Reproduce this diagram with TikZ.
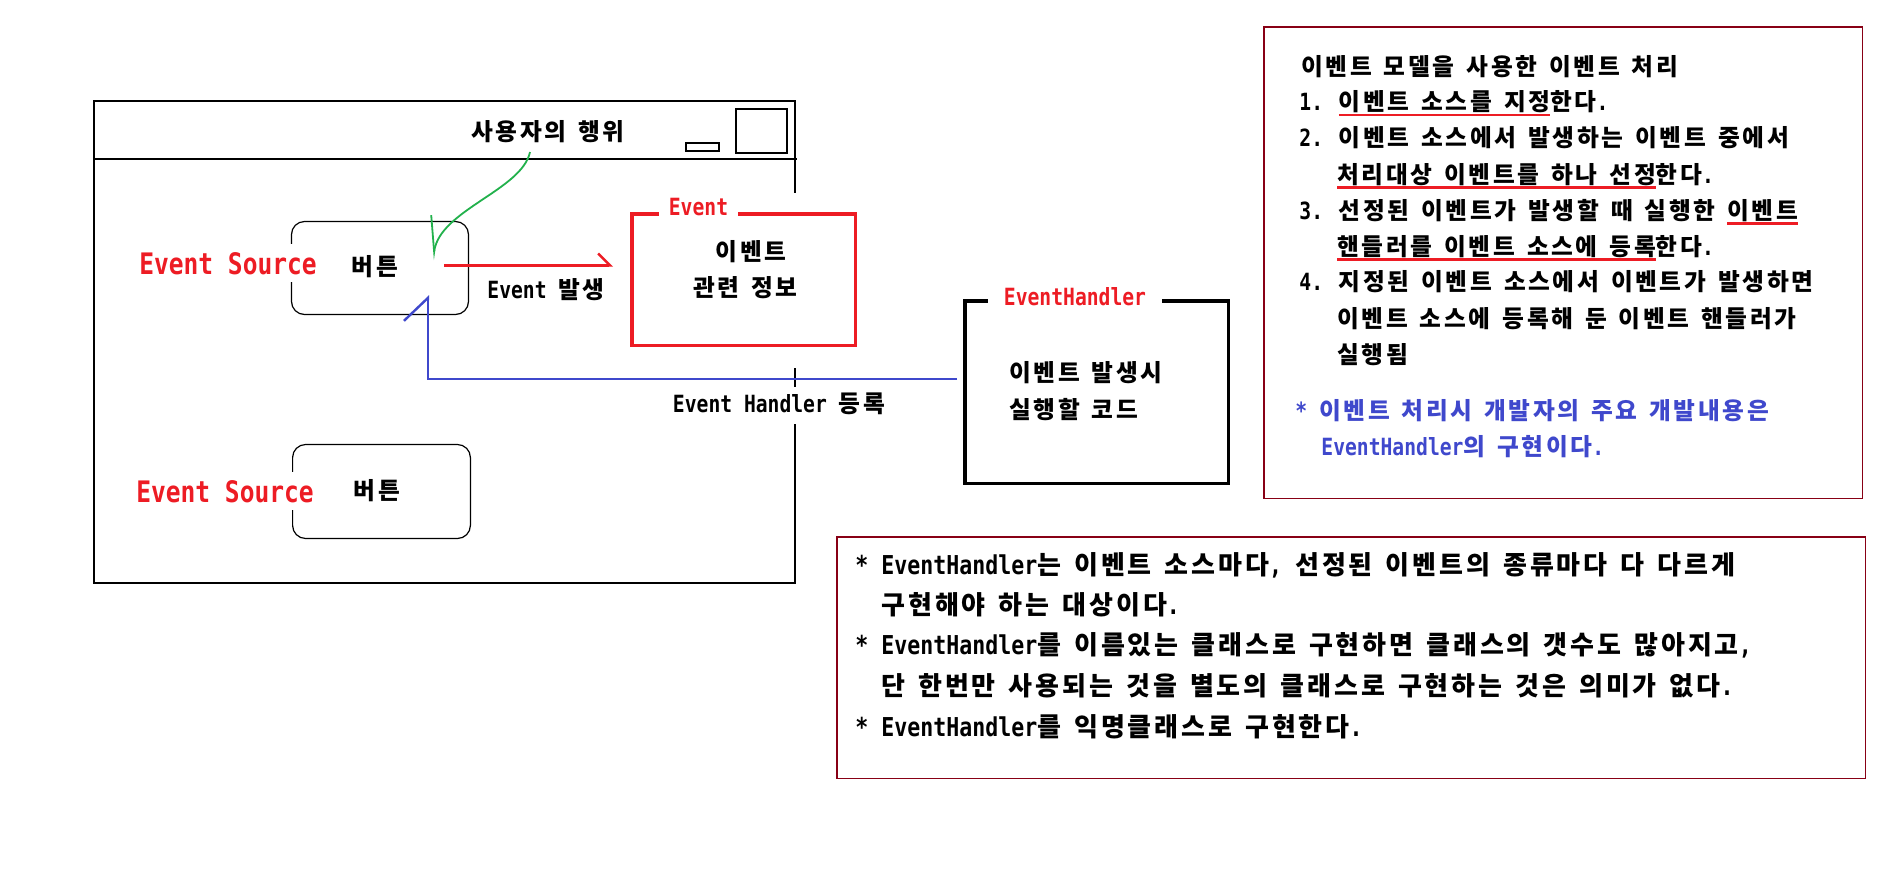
\documentclass[tikz,border=0pt]{standalone}
\usepackage{fontspec}
\setmainfont{Noto Sans CJK KR}[LetterSpace=11.2]
\newfontfamily\latf{DejaVu Sans Mono}[FakeStretch=0.83]
\usetikzlibrary{arrows.meta}
\definecolor{pred}{RGB}{237,28,36}
\definecolor{pgreen}{RGB}{34,177,76}
\definecolor{pblue}{RGB}{63,72,204}
\definecolor{pdark}{RGB}{136,0,21}
\newsavebox\ulbox
\newcommand\rul[1]{\sbox\ulbox{#1}\rlap{\color{pred}\rule[-2.8pt]{\wd\ulbox}{1.1pt}}\usebox\ulbox}
\newcommand\lt[1]{{\latf #1}}
\newcommand\ks{\hskip 0.5em\relax}
\tikzset{
  txt/.style={anchor=west, inner sep=0pt, text height=0.8em, text depth=0.05em,
    font={\fontsize{11.85pt}{14pt}\selectfont\bfseries}},
  btxt/.style={txt, font={\fontsize{13pt}{15pt}\selectfont\bfseries}},
  lbl/.style={anchor=base, fill=white, inner xsep=5pt, inner ysep=1pt, text=pred,
    font={\latf\bfseries\fontsize{11.85pt}{14pt}\selectfont}},
  srclbl/.style={anchor=base, fill=white, inner xsep=2pt, inner ysep=4pt, text=pred,
    font={\latf\bfseries\fontsize{14.8pt}{17pt}\selectfont}},
  thinline/.style={draw=black, line width=0.6pt},
  frameline/.style={draw=black, line width=0.8pt},
  btn/.style={draw=black, line width=0.6pt, rounded corners=6.5pt, inner sep=0pt},
  redbox/.style={draw=pred, line width=1.75pt, inner sep=0pt},
  blackbox/.style={draw=black, line width=1.75pt, inner sep=0pt},
  notebox/.style={draw=pdark, line width=0.75pt, inner sep=0pt},
}
\begin{document}
\begin{tikzpicture}[x=0.5pt,y=-0.5pt]
\fill[white] (0,0) rectangle (1898,868);
\useasboundingbox (0,0) rectangle (1898,868);

% window
\draw[frameline] (94,101) rectangle (795,583);
\draw[frameline] (94,159) -- (797,159);
\draw[thinline] (686,143) rectangle (719,151);
\draw[thinline] (736,109) rectangle (787,153);
\fill[white] (620,193) rectangle (870,368);

\node[txt] (user) at (471,133) {사용자의\ks 행위};

% buttons
\node[btn, minimum width=88.5pt, minimum height=46.5pt] (b1) at (380,268) {};
\node[txt, anchor=center] (b1t) at (375,268) {버튼};
\node[srclbl] (s1) at (228,274) {Event Source};
\node[btn, minimum width=88.9pt, minimum height=47pt] (b2) at (381.5,491.5) {};
\node[txt, anchor=center] (b2t) at (377,492) {버튼};
\node[srclbl] (s2) at (225,502) {Event Source};

% event box
\node[redbox, minimum width=111.75pt, minimum height=65.75pt] (ev) at (743.5,279.5) {};
\node[lbl] (evl) at (698.5,215) {Event};
\node[txt, anchor=center] (ev1) at (751,253) {이벤트};
\node[txt, anchor=center] (ev2) at (745.5,289) {관련\ks 정보};

% event handler box
\node[blackbox, minimum width=131.75pt, minimum height=91.25pt] (eh) at (1096.5,392) {};
\node[lbl, inner xsep=8pt] (ehl) at (1075,305) {EventHandler};
\node[txt] (eh1) at (1009,373.5) {이벤트\ks 발생시};
\node[txt] (eh2) at (1009,410.5) {실행할\ks 코드};

% labels on connectors
\node[txt] (occ) at (487,291) {\lt{Event }발생};
\node[txt, anchor=center, fill=white, inner ysep=5pt, inner xsep=2pt] (reg) at (779,405) {\lt{Event Handler }등록};

% connectors
\coordinate (gs) at (530,152);
\coordinate (gt) at (433,260);
\draw[pgreen, line width=0.9pt, -{Straight Barb[harpoon,swap,length=18pt,width=8pt]}]
  (gs) .. controls (522,190) and (440,210) .. (gt);

\coordinate (rs) at (444,265.5);
\draw[pred, line width=1.2pt, shorten >=8.5pt, -{Straight Barb[harpoon,length=6pt,width=12pt]}]
  (rs) -- (rs -| ev.west);

\coordinate (bt) at (428,295);
\draw[pblue, line width=1.2pt, shorten <=3pt, -{Straight Barb[harpoon,length=11.5pt,width=24pt]}]
  ([yshift=6.5pt]eh.west) -| (bt);

% right note box
\node[notebox, minimum width=299.25pt, minimum height=235.75pt] (info) at (1563,262.5) {};
\node[txt] (r0) at (1301,68) {이벤트\ks 모델을\ks 사용한\ks 이벤트\ks 처리};
\node[txt] (r1) at (1299,103) {\lt{1. }\rul{이벤트\ks 소스를\ks 지정}한다\lt{.}};
\node[txt] (r2) at (1299,139) {\lt{2. }이벤트\ks 소스에서\ks 발생하는\ks 이벤트\ks 중에서};
\node[txt] (r3) at (1337,175.5) {\rul{처리대상\ks 이벤트를\ks 하나\ks 선정}한다\lt{.}};
\node[txt] (r4) at (1299,211.5) {\lt{3. }선정된\ks 이벤트가\ks 발생할\ks 때\ks 실행한\ks \rul{이벤트}};
\node[txt] (r5) at (1337,247.5) {\rul{핸들러를\ks 이벤트\ks 소스에\ks 등록}한다\lt{.}};
\node[txt] (r6) at (1299,283) {\lt{4. }지정된\ks 이벤트\ks 소스에서\ks 이벤트가\ks 발생하면};
\node[txt] (r7) at (1337,319.5) {이벤트\ks 소스에\ks 등록해\ks 둔\ks 이벤트\ks 핸들러가};
\node[txt] (r8) at (1337,355.5) {실행됨};
\node[txt, text=pblue] (r9) at (1295,412) {\lt{* }이벤트\ks 처리시\ks 개발자의\ks 주요\ks 개발내용은};
\node[txt, text=pblue] (r10) at (1321,448) {\lt{EventHandler}의\ks 구현이다\lt{.}};

% bottom note box
\node[notebox, minimum width=514.25pt, minimum height=120.75pt] (note) at (1351,657.5) {};
\node[btxt] (n1) at (855,567) {\lt{* EventHandler}는\ks 이벤트\ks 소스마다\lt{, }선정된\ks 이벤트의\ks 종류마다\ks 다\ks 다르게};
\node[btxt] (n2) at (881,607) {구현해야\ks 하는\ks 대상이다\lt{.}};
\node[btxt] (n3) at (855,647) {\lt{* EventHandler}를\ks 이름있는\ks 클래스로\ks 구현하면\ks 클래스의\ks 갯수도\ks 많아지고\lt{,}};
\node[btxt] (n4) at (881,688) {단\ks 한번만\ks 사용되는\ks 것을\ks 별도의\ks 클래스로\ks 구현하는\ks 것은\ks 의미가\ks 없다\lt{.}};
\node[btxt] (n5) at (855,729) {\lt{* EventHandler}를\ks 익명클래스로\ks 구현한다\lt{.}};
\end{tikzpicture}
\end{document}
